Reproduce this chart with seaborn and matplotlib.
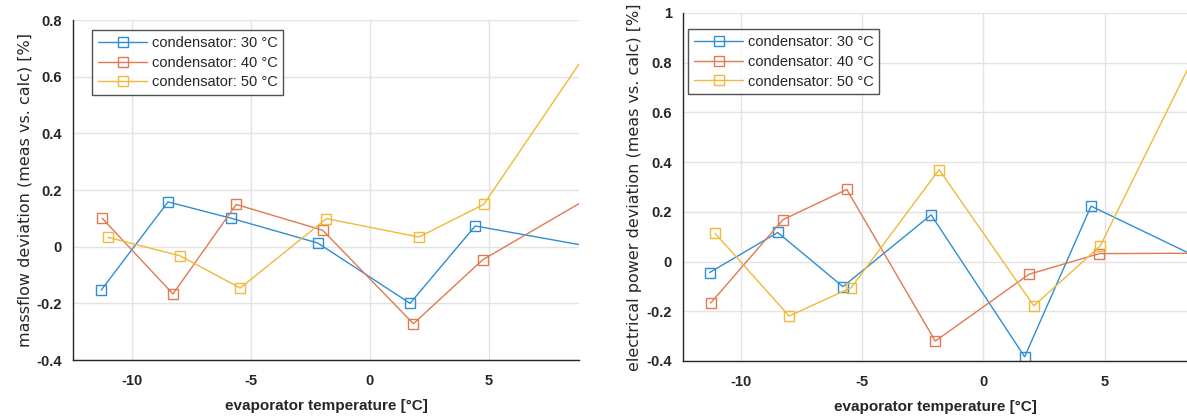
import matplotlib
matplotlib.use("Agg")
import matplotlib.pyplot as plt
import pandas as pd
import seaborn as sns

# condensator temperature series (last point lies just beyond the visible x-range)
series_labels = ["condensator: 30 °C", "condensator: 40 °C", "condensator: 50 °C"]

# massflow deviation plot
mf_x_30 = [-11.31, -8.50, -5.83, -2.20, 1.69, 4.43, 9.5]
mf_y_30 = [-0.153, 0.158, 0.100, 0.013, -0.200, 0.073, -0.003]
mf_x_40 = [-11.27, -8.29, -5.63, -1.99, 1.83, 4.75, 9.5]
mf_y_40 = [0.100, -0.167, 0.149, 0.058, -0.272, -0.046, 0.186]
mf_x_50 = [-11.03, -8.00, -5.46, -1.83, 2.06, 4.79, 9.5]
mf_y_50 = [0.033, -0.032, -0.146, 0.099, 0.034, 0.149, 0.731]

# electrical power deviation plot
ep_x_30 = [-11.30, -8.49, -5.80, -2.16, 1.70, 4.44, 9.5]
ep_y_30 = [-0.044, 0.117, -0.101, 0.188, -0.383, 0.223, -0.014]
ep_x_40 = [-11.26, -8.27, -5.64, -1.99, 1.88, 4.78, 9.5]
ep_y_40 = [-0.167, 0.169, 0.290, -0.320, -0.051, 0.032, 0.034]
ep_x_50 = [-11.07, -8.02, -5.46, -1.83, 2.08, 4.82, 9.5]
ep_y_50 = [0.113, -0.219, -0.105, 0.370, -0.178, 0.063, 0.985]

colors = ["#2F8ED2", "#E07A50", "#F0B938"]


def long_frame(xs, ys):
    parts = []
    for label, x, y in zip(series_labels, xs, ys):
        parts.append(pd.DataFrame({"evap": x, "dev": y, "series": label}))
    return pd.concat(parts, ignore_index=True)


mf_df = long_frame([mf_x_30, mf_x_40, mf_x_50], [mf_y_30, mf_y_40, mf_y_50])
ep_df = long_frame([ep_x_30, ep_x_40, ep_x_50], [ep_y_30, ep_y_40, ep_y_50])

sns.set_theme(style="white")
plt.rcParams["font.family"] = ["Liberation Sans", "DejaVu Sans"]

W, H = 1187, 416
fig = plt.figure(figsize=(W / 100, H / 100), dpi=100)
ax1 = fig.add_axes([73 / W, 1 - 360 / H, (579 - 73) / W, (360 - 20) / H])
ax2 = fig.add_axes([683 / W, 1 - 361 / H, (1187 - 683) / W, (361 - 13) / H])


def draw(ax, df, xlim, ylim, yticks, ylabel, leg_anchor):
    sns.lineplot(data=df, x="evap", y="dev", hue="series", palette=colors,
                 sort=False, estimator=None, legend=False, ax=ax, linewidth=1.0)
    for line, c in zip(ax.lines, colors):
        line.set_marker("s")
        line.set_markersize(6.5)
        line.set_markerfacecolor("none")
        line.set_markeredgecolor(c)
        line.set_markeredgewidth(1.0)
    ax.set_xlim(*xlim)
    ax.set_ylim(*ylim)
    ax.set_xticks([-10, -5, 0, 5])
    ax.set_xticklabels(["-10", "-5", "0", "5"])
    ax.set_yticks(yticks)
    ax.set_yticklabels([("%g" % t) for t in yticks])
    ax.grid(True, color="#e3e3e3", linewidth=1)
    ax.set_axisbelow(True)
    for s in ["top", "right"]:
        ax.spines[s].set_visible(False)
    for s in ["left", "bottom"]:
        ax.spines[s].set_color("#262626")
        ax.spines[s].set_linewidth(1)
    ax.tick_params(direction="in", length=4, width=0.8, color="#262626",
                   labelsize=10.5)
    ax.tick_params(axis="x", pad=10)
    ax.tick_params(axis="y", pad=8)
    for lab in ax.get_xticklabels() + ax.get_yticklabels():
        lab.set_fontweight("bold")
    ax.set_xlabel("evaporator temperature [°C]", fontsize=11,
                  fontweight="bold", labelpad=8)
    ax.set_ylabel(ylabel, fontsize=11.5, family=["DejaVu Sans"], labelpad=3)
    leg = ax.legend(handles=ax.lines[:3], labels=series_labels, loc="upper left",
                    bbox_to_anchor=leg_anchor, fontsize=10.5, frameon=True,
                    fancybox=False, edgecolor="#262626", handlelength=3.4,
                    handletextpad=0.3, borderpad=0.4, labelspacing=0.4,
                    borderaxespad=0)
    leg.get_frame().set_linewidth(1)


draw(ax1, mf_df, (-12.5, 8.8), (-0.4, 0.8), [-0.4, -0.2, 0, 0.2, 0.4, 0.6, 0.8],
     "massflow deviation (meas vs. calc) [%]", (19 / 506, 1 - 10 / 340))
draw(ax2, ep_df, (-12.4, 8.4), (-0.4, 1.0), [-0.4, -0.2, 0, 0.2, 0.4, 0.6, 0.8, 1],
     "electrical power deviation (meas vs. calc) [%]", (5 / 504, 1 - 16 / 348))

fig.savefig("out.png", dpi=100)
plt.close(fig)
